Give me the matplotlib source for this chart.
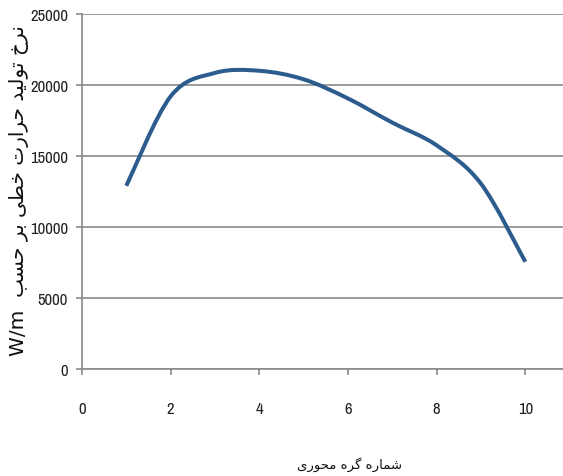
import matplotlib
matplotlib.use("Agg")
import matplotlib.pyplot as plt
from matplotlib.path import Path
from matplotlib.patches import PathPatch

# values
node_index = [1, 2, 3, 4, 5, 6, 7, 8, 9, 10]
heat_rate = [12900, 19200, 20850, 21000, 20400, 19050, 17350, 15750, 13050, 7550]

x_ticks = [0, 2, 4, 6, 8, 10]
y_ticks = [0, 5000, 10000, 15000, 20000, 25000]

ylabel_fa = "نرخ تولید حرارت خطی بر حسب"
ylabel_unit = "W/m"
xlabel_fa = "شماره گره محوری"

LINE_COLOR = "#2c5c8e"
GRID_COLOR = "#8a8a8a"

# --- minimal Persian shaping (matplotlib has no complex text layout) ---
_FORMS = {
    # isolated, final, initial, medial
    "ا": ("\uFE8D", "\uFE8E", None, None),
    "ب": ("\uFE8F", "\uFE90", "\uFE91", "\uFE92"),
    "ت": ("\uFE95", "\uFE96", "\uFE97", "\uFE98"),
    "ح": ("\uFEA1", "\uFEA2", "\uFEA3", "\uFEA4"),
    "خ": ("\uFEA5", "\uFEA6", "\uFEA7", "\uFEA8"),
    "د": ("\uFEA9", "\uFEAA", None, None),
    "ر": ("\uFEAD", "\uFEAE", None, None),
    "س": ("\uFEB1", "\uFEB2", "\uFEB3", "\uFEB4"),
    "ش": ("\uFEB5", "\uFEB6", "\uFEB7", "\uFEB8"),
    "ط": ("\uFEC1", "\uFEC2", "\uFEC3", "\uFEC4"),
    "ل": ("\uFEDD", "\uFEDE", "\uFEDF", "\uFEE0"),
    "م": ("\uFEE1", "\uFEE2", "\uFEE3", "\uFEE4"),
    "ن": ("\uFEE5", "\uFEE6", "\uFEE7", "\uFEE8"),
    "ه": ("\uFEE9", "\uFEEA", "\uFEEB", "\uFEEC"),
    "و": ("\uFEED", "\uFEEE", None, None),
    "ی": ("\uFBFC", "\uFBFD", "\uFBFE", "\uFBFF"),
    "گ": ("\uFB92", "\uFB93", "\uFB94", "\uFB95"),
}


def _dual(ch):
    return ch in _FORMS and _FORMS[ch][2] is not None


def shape_fa(text):
    out = []
    for i, ch in enumerate(text):
        if ch not in _FORMS:
            out.append(ch)
            continue
        prev = text[i - 1] if i > 0 else ""
        nxt = text[i + 1] if i + 1 < len(text) else ""
        join_prev = _dual(prev)
        join_next = _dual(ch) and nxt in _FORMS
        iso, fin, ini, med = _FORMS[ch]
        if join_prev and join_next:
            out.append(med)
        elif join_prev:
            out.append(fin)
        elif join_next:
            out.append(ini)
        else:
            out.append(iso)
    return "".join(reversed(out))


def smooth_path(xs, ys):
    # Excel-style smoothed line: Catmull-Rom segments as cubic Beziers
    pts = list(zip(xs, ys))
    verts = [pts[0]]
    codes = [Path.MOVETO]
    n = len(pts)
    for i in range(n - 1):
        p0 = pts[i - 1] if i > 0 else pts[i]
        p1 = pts[i]
        p2 = pts[i + 1]
        p3 = pts[i + 2] if i + 2 < n else pts[i + 1]
        c1 = (p1[0] + (p2[0] - p0[0]) / 6, p1[1] + (p2[1] - p0[1]) / 6)
        c2 = (p2[0] - (p3[0] - p1[0]) / 6, p2[1] - (p3[1] - p1[1]) / 6)
        verts += [c1, c2, p2]
        codes += [Path.CURVE4] * 3
    return Path(verts, codes)


tick_font = ["Liberation Sans Narrow", "Archivo Narrow", "DejaVu Sans"]

fig = plt.figure(figsize=(5.63, 4.77), dpi=100)
ax = fig.add_axes([0.1456, 0.2243, 0.8544, 0.7443])

ax.add_patch(PathPatch(smooth_path(node_index, heat_rate), facecolor="none",
                       edgecolor=LINE_COLOR, linewidth=2.9, capstyle="butt",
                       joinstyle="round", zorder=3))

ax.set_xlim(0, 10.85)
ax.set_ylim(0, 25000)
ax.set_xticks(x_ticks)
ax.set_yticks(y_ticks)

ax.grid(axis="y", color=GRID_COLOR, linewidth=1.2)
ax.set_axisbelow(True)
for side in ("top", "right"):
    ax.spines[side].set_visible(False)
for side in ("left", "bottom"):
    ax.spines[side].set_color(GRID_COLOR)
    ax.spines[side].set_linewidth(1.2)

ax.tick_params(axis="both", direction="out", length=4, width=1.2,
               color=GRID_COLOR, labelsize=12, labelcolor="#222222")
ax.tick_params(axis="x", pad=19)
ax.tick_params(axis="y", pad=6)
for lab in ax.get_xticklabels() + ax.get_yticklabels():
    lab.set_family(tick_font)

fig.text(0.034, 0.6, ylabel_unit + "  " + shape_fa(ylabel_fa), rotation=90,
         ha="center", va="center", fontsize=14.5, color="#111111",
         family="DejaVu Sans")
fig.text(0.62, 0.025, shape_fa(xlabel_fa), ha="center", va="center",
         fontsize=9.5, color="#111111", family="DejaVu Sans")

fig.savefig("out.png", dpi=100)
